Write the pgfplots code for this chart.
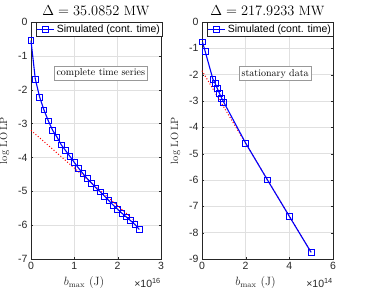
\documentclass[border=0pt]{standalone}
\usepackage{fontspec}
\usepackage{pgfplots}
\pgfplotsset{compat=1.18}
\newfontfamily\arial{Liberation Sans}
\definecolor{gridc}{gray}{0.88}
\definecolor{axc}{gray}{0.15}
\pgfplotsset{
  mystyle/.style={
    scale only axis,
    width=130pt, height=237pt,
    axis line style={axc, line width=0.5pt},
    tick style={axc},
    tick align=inside,
    major tick length=2pt,
    xtick pos=both, ytick pos=both,
    grid=major,
    major grid style={gridc, line width=0.4pt},
    tick label style={font=\arial\fontsize{10.5}{12}\selectfont, axc},
    title style={font=\fontsize{13.5}{15}\selectfont, yshift=-3pt},
    ylabel style={font=\fontsize{10.5}{12}\selectfont, yshift=2pt, axc},
    xlabel style={font=\fontsize{12}{13}\selectfont, xshift=-12pt, yshift=0pt, axc},
    ylabel={$\log$ LO\,LP},
    xlabel={$b_{\max}$ (J)},
    legend style={font=\arial\fontsize{10.5}{11}\selectfont, draw=axc, line width=0.4pt, inner sep=0.3pt, anchor=north west, at={(0.04,1)}, legend cell align=left},
    clip=false,
  },
  blueline/.style={blue, line width=1.1pt, mark=square, mark size=2.9pt, mark options={solid, line width=0.9pt}},
  redline/.style={red, dotted, line width=1pt, forget plot},
}
\begin{document}
\begin{tikzpicture}
\path[use as bounding box] (0,0) rectangle (370pt,292pt);
\begin{axis}[mystyle,
  at={(31pt,33pt)}, anchor=south west,
  xmin=0, xmax=3, ymin=-7, ymax=0,
  xtick={0,1,2,3}, xticklabels={0,1,2,3},
  ytick={-7,-6,-5,-4,-3,-2,-1,0}, yticklabels={-7,-6,-5,-4,-3,-2,-1,0},
  title={$\Delta = 35.0852$ MW},
]
\addplot[redline] coordinates {(0,-3.2) (2.45,-5.93)};
\addplot[blueline] coordinates {
(0,-0.55) (0.1,-1.69) (0.2,-2.22) (0.3,-2.6) (0.4,-2.92) (0.5,-3.2)
(0.6,-3.4) (0.7,-3.63) (0.8,-3.8) (0.9,-3.97) (1.0,-4.15) (1.1,-4.32)
(1.2,-4.48) (1.3,-4.63) (1.4,-4.76) (1.5,-4.9) (1.6,-5.02) (1.7,-5.15)
(1.8,-5.28) (1.9,-5.41) (2.0,-5.53) (2.1,-5.65) (2.2,-5.76) (2.3,-5.87)
(2.4,-5.98) (2.5,-6.13)};
\addlegendentry{Simulated (cont. time)}
\node[draw=gray!80, fill=white, line width=0.4pt, inner sep=2.5pt, font=\fontsize{10}{12}\selectfont] at (axis cs:1.61,-1.5) {complete time series};
\node[anchor=east, font=\arial\fontsize{10.5}{11}\selectfont, inner sep=0pt, text=axc] at ([yshift=-24pt]rel axis cs:1,0) {×10\textsuperscript{16}};
\end{axis}
\begin{axis}[mystyle,
  at={(202pt,33pt)}, anchor=south west, width=131pt,
  xmin=0, xmax=6, ymin=-9, ymax=0,
  xtick={0,2,4,6}, xticklabels={0,2,4,6},
  ytick={-9,-8,-7,-6,-5,-4,-3,-2,-1,0}, yticklabels={-9,-8,-7,-6,-5,-4,-3,-2,-1,0},
  title={$\Delta = 217.9233$ MW},
]
\addplot[redline] coordinates {(0,-1.85) (5,-8.75)};
\addplot[blueline] coordinates {
(0.02,-0.76) (0.15,-1.13) (0.5,-2.17) (0.6,-2.33) (0.7,-2.52) (0.8,-2.71)
(0.9,-2.89) (1.0,-3.05) (2,-4.6) (3,-6.0) (4,-7.38) (5,-8.75)};
\addlegendentry{Simulated (cont. time)}
\node[draw=gray!80, fill=white, line width=0.4pt, inner sep=2.5pt, font=\fontsize{10}{12}\selectfont] at (axis cs:3.35,-1.96) {stationary data};
\node[anchor=east, font=\arial\fontsize{10.5}{11}\selectfont, inner sep=0pt, text=axc] at ([yshift=-24pt]rel axis cs:1,0) {×10\textsuperscript{14}};
\end{axis}
\end{tikzpicture}
\end{document}
